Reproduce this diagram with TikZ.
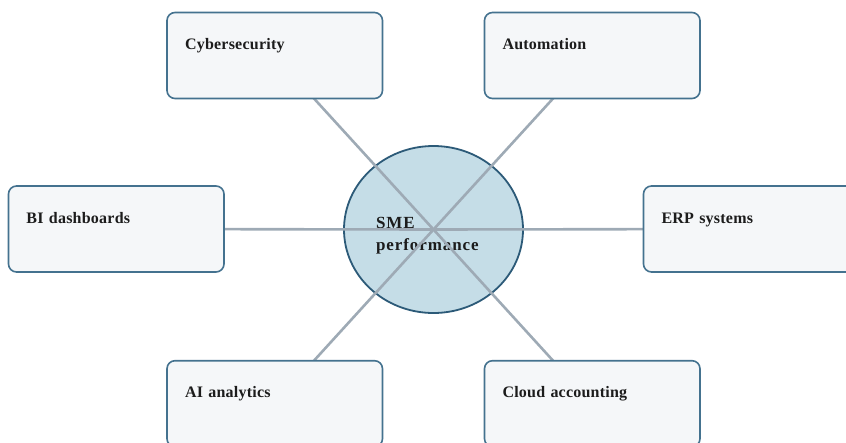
\documentclass[tikz,border=0pt]{standalone}
\usepackage{fontspec}
\setmainfont{Liberation Serif}[LetterSpace=1.4]
\newfontfamily\hubfont{Liberation Serif}[LetterSpace=5.4]
\usepackage{xcolor}
\usetikzlibrary{shapes.geometric}

\definecolor{boxline}{HTML}{44728F}
\definecolor{boxfill}{HTML}{F5F7F9}
\definecolor{hubline}{HTML}{2C5A78}
\definecolor{hubfill}{HTML}{C5DDE7}
\definecolor{spokecol}{HTML}{9EAAB5}
\definecolor{labeltext}{HTML}{1C1C1C}

\begin{document}
\begin{tikzpicture}[
    x=1pt, y=-1pt,
    font=\fontsize{16pt}{22pt}\selectfont\bfseries,
    text=labeltext,
    box/.style={draw=boxline, line width=1.6pt, fill=boxfill, rounded corners=8pt, align=left, text width=179.5pt, inner xsep=18pt, inner ysep=0pt, text height=37pt, text depth=49pt},
    hub/.style={ellipse, draw=hubline, line width=1.8pt, fill=hubfill, minimum width=179pt, minimum height=167pt, align=left, text width=115pt, text height=22pt, text depth=25pt, inner sep=0pt, font=\hubfont\fontsize{17pt}{22pt}\selectfont\bfseries},
    spoke/.style={draw=spokecol, line width=2.6pt}
  ]
    \useasboundingbox (0,0) rectangle (846,442);
    \node[hub] (hub) at (433.5,229.5) {SME\\performance};
    % the six areas round the hub
    \coordinate (cyberpos) at (274.75,55.5);
    \coordinate (autopos) at (592.25,55.5);
    \coordinate (bipos) at (116.25,229);
    \coordinate (erppos) at (751.25,229);
    \coordinate (aipos) at (274.75,403.7);
    \coordinate (cloudpos) at (592.25,403.7);
    \foreach \p in {cyberpos,autopos,bipos,erppos,aipos,cloudpos}
      \draw[spoke] (\p) -- (hub.center);
    \node[box] (cyber) at (cyberpos) {Cybersecurity};
    \node[box] (auto) at (autopos) {Automation};
    \node[box] (bi) at (bipos) {BI dashboards};
    \node[box] (erp) at (erppos) {ERP systems};
    \node[box] (ai) at (aipos) {AI analytics};
    \node[box] (cloud) at (cloudpos) {Cloud accounting};
  \end{tikzpicture}
\end{document}
